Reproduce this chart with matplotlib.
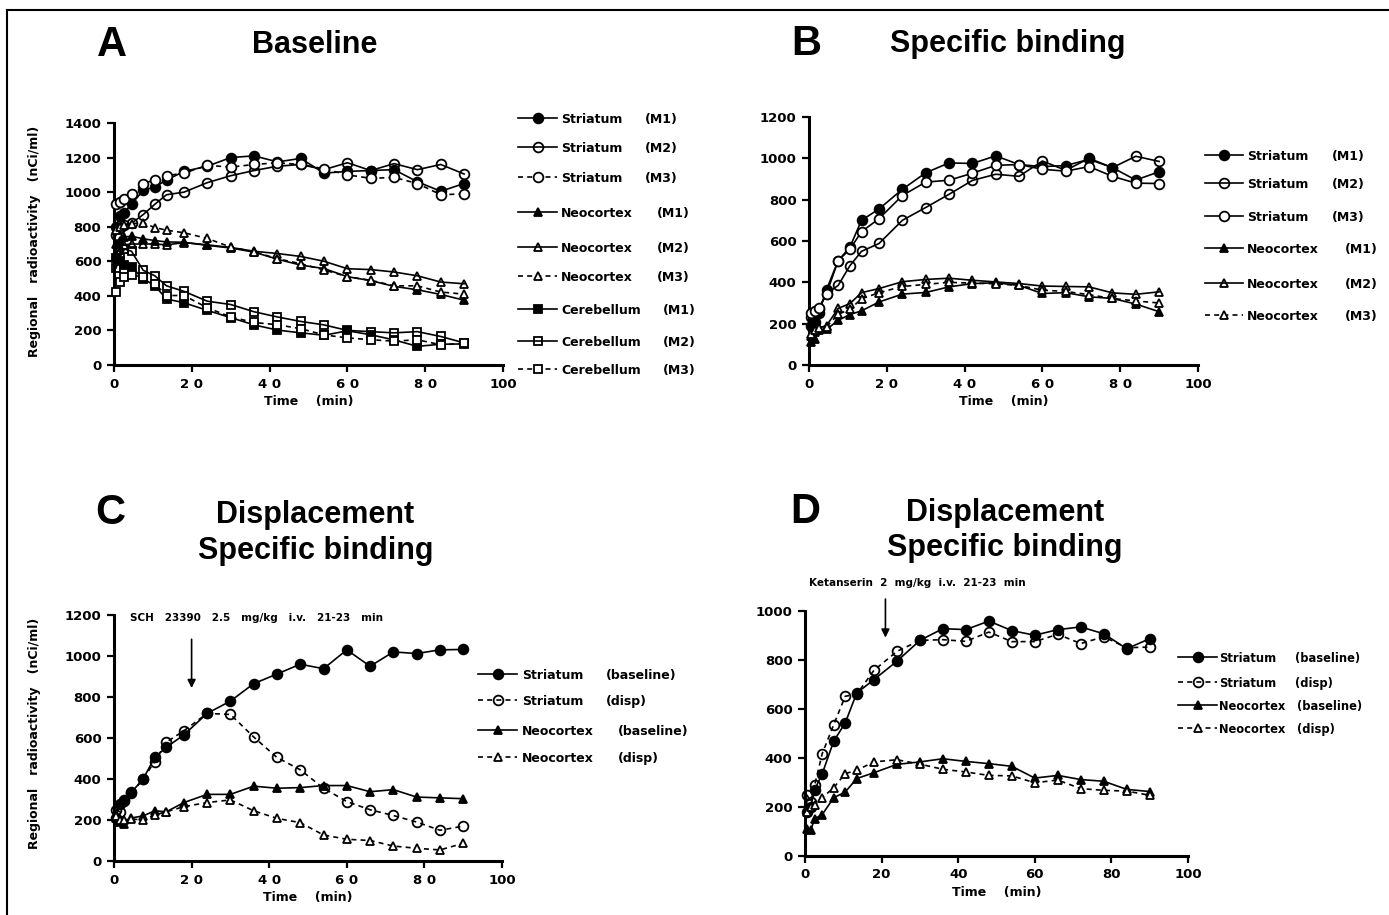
import matplotlib
matplotlib.use("Agg")
import matplotlib.pyplot as plt
from matplotlib.lines import Line2D

plt.rcParams['font.family'] = ['DejaVu Sans']
plt.rcParams['font.weight'] = 'bold'

W, H = 1389, 915

# frame mid-times (min)
times = [0.5, 1.5, 2.5, 4.5, 7.5, 10.5, 13.5, 18, 24, 30, 36, 42, 48, 54, 60, 66, 72, 78, 84, 90]

# A  Baseline
a_str_m1 = [800, 860, 880, 930, 1010, 1030, 1070, 1120, 1150, 1200, 1210, 1175, 1195, 1110, 1120, 1125, 1130, 1060, 1005, 1050]
a_str_m2 = [750, 790, 810, 820, 870, 930, 985, 1000, 1055, 1095, 1125, 1150, 1160, 1130, 1170, 1125, 1165, 1130, 1160, 1105]
a_str_m3 = [930, 945, 960, 990, 1050, 1070, 1095, 1110, 1155, 1145, 1160, 1170, 1160, 1135, 1100, 1080, 1085, 1050, 985, 990]
a_neo_m1 = [700, 720, 740, 745, 730, 720, 712, 710, 692, 677, 653, 612, 578, 558, 511, 488, 455, 435, 408, 375]
a_neo_m2 = [640, 680, 695, 700, 700, 700, 695, 708, 695, 680, 658, 645, 628, 600, 557, 552, 538, 516, 480, 470]
a_neo_m3 = [780, 800, 810, 818, 822, 795, 780, 765, 732, 682, 655, 615, 586, 550, 511, 490, 458, 458, 422, 410]
a_cer_m1 = [620, 600, 580, 565, 500, 458, 382, 360, 316, 274, 232, 202, 186, 172, 198, 175, 145, 108, 120, 122]
a_cer_m2 = [560, 620, 672, 658, 548, 516, 458, 426, 369, 350, 308, 278, 252, 232, 200, 193, 186, 193, 165, 128]
a_cer_m3 = [420, 480, 510, 520, 510, 470, 402, 402, 331, 278, 246, 233, 210, 174, 157, 146, 138, 146, 117, 125]

# B  Specific binding
b_str_m1 = [190, 210, 250, 365, 505, 570, 700, 755, 850, 930, 978, 975, 1012, 970, 960, 965, 995, 955, 895, 935]
b_str_m2 = [230, 250, 270, 345, 385, 480, 550, 588, 700, 762, 826, 893, 923, 913, 987, 942, 1000, 955, 1010, 985]
b_str_m3 = [250, 260, 275, 345, 505, 560, 645, 708, 820, 885, 894, 928, 966, 970, 947, 938, 960, 913, 880, 878]
b_neo_m1 = [110, 128, 170, 172, 216, 244, 262, 305, 343, 351, 378, 394, 398, 385, 346, 350, 330, 322, 295, 258]
b_neo_m2 = [140, 160, 180, 190, 274, 297, 350, 370, 403, 414, 420, 410, 402, 394, 382, 380, 378, 349, 342, 354]
b_neo_m3 = [150, 170, 180, 185, 245, 270, 320, 350, 380, 390, 400, 396, 393, 385, 362, 356, 340, 322, 310, 300]

# C  Displacement (SCH 23390)
c_str_base = [210, 280, 300, 335, 400, 505, 555, 615, 720, 780, 865, 912, 960, 938, 1030, 950, 1020, 1012, 1030, 1032]
c_str_disp = [250, 240, 295, 330, 400, 485, 580, 635, 720, 715, 605, 505, 445, 355, 290, 250, 222, 190, 150, 170]
c_neo_base = [210, 190, 180, 210, 220, 245, 240, 285, 325, 325, 365, 355, 358, 368, 368, 338, 348, 312, 308, 304]
c_neo_disp = [220, 200, 200, 205, 200, 225, 240, 265, 285, 298, 245, 208, 187, 127, 106, 100, 73, 62, 54, 86]

# D  Displacement (Ketanserin)
d_str_base = [180, 200, 270, 336, 469, 543, 665, 720, 795, 880, 928, 924, 959, 920, 901, 924, 935, 907, 846, 887]
d_str_disp = [250, 220, 288, 418, 536, 652, 660, 758, 835, 880, 883, 876, 914, 875, 875, 905, 867, 895, 850, 853]
d_neo_base = [110, 105, 152, 169, 238, 261, 316, 340, 374, 384, 397, 386, 377, 366, 318, 329, 312, 305, 272, 263]
d_neo_disp = [180, 200, 210, 238, 279, 336, 350, 384, 393, 375, 354, 343, 329, 327, 299, 310, 275, 268, 265, 248]

x_ticks = [0, 20, 40, 60, 80, 100]
x_labels_spaced = ['0', '2 0', '4 0', '6 0', '8 0', '100']
x_labels_plain = ['0', '20', '40', '60', '80', '100']

DASH = (0, (3, 2.5))
CIRC, TRI = 7, 6


def px(x, y):
    return x / W, 1 - y / H


def style(marker, fill, dashed, ms):
    return dict(color='k', lw=1.2, ls=DASH if dashed else '-', marker=marker,
                ms=ms, mfc=fill, mec='k', mew=1.3)


fig = plt.figure(figsize=(W / 100, H / 100), dpi=100)

# frame
fig.add_artist(Line2D([7 / W, 7 / W], [0, 1 - 10 / H], transform=fig.transFigure, color='k', lw=1.5))
fig.add_artist(Line2D([7 / W, 1], [1 - 10 / H, 1 - 10 / H], transform=fig.transFigure, color='k', lw=1.5))


def make_axes(left, top, right, bottom, ymax, labels):
    l, t = px(left, top)
    r, b = px(right, bottom)
    ax = fig.add_axes([l, b, r - l, t - b])
    ax.set_xlim(0, 100)
    ax.set_ylim(0, ymax)
    for s in ['top', 'right']:
        ax.spines[s].set_visible(False)
    for s in ['left', 'bottom']:
        ax.spines[s].set_linewidth(2.2)
    ax.set_xticks(x_ticks)
    ax.set_xticklabels(labels)
    ax.set_yticks(range(0, ymax + 1, 200))
    ax.tick_params(direction='out', length=5, width=1.6, labelsize=9.5, pad=4)
    ax.set_xlabel('Time    (min)', fontsize=9, fontweight='bold', labelpad=3)
    return ax


def series(ax, y, marker, fill, dashed, ms=CIRC):
    ax.plot(times, y, clip_on=False, zorder=3, **style(marker, fill, dashed, ms))


def legend(rows, ys, hx0, hx1, name_x, tag_xs, size=9):
    for (marker, fill, dashed, ms, name, tag), y, tx in zip(rows, ys, tag_xs):
        fx0, fy = px(hx0, y)
        fx1, _ = px(hx1, y)
        fig.add_artist(Line2D([fx0, (fx0 + fx1) / 2, fx1], [fy, fy, fy], transform=fig.transFigure,
                              markevery=[1], **style(marker, fill, dashed, ms)))
        fig.text(name_x / W, fy, name, fontsize=size, fontweight='bold', va='center_baseline', ha='left')
        fig.text(tx / W, fy, tag, fontsize=size, fontweight='bold', va='center_baseline', ha='left')


def title(x, y, s, size=22):
    fig.text(x / W, 1 - y / H, s, fontsize=size, fontweight='bold', family='Liberation Sans',
             ha='center', va='center')


ylab = 'Regional   radioactivity   (nCi/ml)'

# ---- A
axA = make_axes(114, 123, 503, 365, 1400, x_labels_spaced)
series(axA, a_str_m1, 'o', 'k', False)
series(axA, a_str_m2, 'o', 'none', False)
series(axA, a_str_m3, 'o', 'white', True)
series(axA, a_neo_m1, '^', 'k', False, TRI)
series(axA, a_neo_m2, '^', 'none', False, TRI)
series(axA, a_neo_m3, '^', 'white', True, TRI)
series(axA, a_cer_m1, 's', 'k', False, TRI)
series(axA, a_cer_m2, 's', 'none', False, TRI)
series(axA, a_cer_m3, 's', 'white', True, TRI)
title(112, 45, 'A', 30)
title(315, 45, 'Baseline')
fig.text(35 / W, 1 - 241 / H, ylab, rotation=90, fontsize=9, fontweight='bold', ha='center', va='center')

legend([('o', 'k', False, CIRC, 'Striatum', '(M1)'),
        ('o', 'none', False, CIRC, 'Striatum', '(M2)'),
        ('o', 'white', True, CIRC, 'Striatum', '(M3)'),
        ('^', 'k', False, TRI, 'Neocortex', '(M1)'),
        ('^', 'none', False, TRI, 'Neocortex', '(M2)'),
        ('^', 'white', True, TRI, 'Neocortex', '(M3)'),
        ('s', 'k', False, TRI, 'Cerebellum', '(M1)'),
        ('s', 'none', False, TRI, 'Cerebellum', '(M2)'),
        ('s', 'white', True, TRI, 'Cerebellum', '(M3)')],
       [118, 147, 177, 212, 247, 276, 309, 341, 369], 518, 557, 561,
       [645, 645, 645, 657, 657, 657, 663, 663, 663])

# ---- B
axB = make_axes(809, 117, 1198, 365, 1200, x_labels_spaced)
series(axB, b_str_m1, 'o', 'k', False)
series(axB, b_str_m2, 'o', 'none', False)
series(axB, b_str_m3, 'o', 'white', False)
series(axB, b_neo_m1, '^', 'k', False, TRI)
series(axB, b_neo_m2, '^', 'none', False, TRI)
series(axB, b_neo_m3, '^', 'white', True, TRI)
title(806, 44, 'B', 30)
title(1008, 44, 'Specific binding')

legend([('o', 'k', False, CIRC, 'Striatum', '(M1)'),
        ('o', 'none', False, CIRC, 'Striatum', '(M2)'),
        ('o', 'white', False, CIRC, 'Striatum', '(M3)'),
        ('^', 'k', False, TRI, 'Neocortex', '(M1)'),
        ('^', 'none', False, TRI, 'Neocortex', '(M2)'),
        ('^', 'white', True, TRI, 'Neocortex', '(M3)')],
       [155, 183, 216, 248, 283, 315], 1205, 1243, 1247,
       [1332, 1332, 1332, 1345, 1345, 1345])

# ---- C
axC = make_axes(114, 615, 502, 861, 1200, x_labels_spaced)
series(axC, c_str_base, 'o', 'k', False)
series(axC, c_str_disp, 'o', 'none', True)
series(axC, c_neo_base, '^', 'k', False, TRI)
series(axC, c_neo_disp, '^', 'white', True, TRI)
title(110, 513, 'C', 30)
title(315, 515, 'Displacement')
title(316, 551, 'Specific binding')
fig.text(35 / W, 1 - 733 / H, ylab, rotation=90, fontsize=9, fontweight='bold', ha='center', va='center')
axC.text(4, 1185, 'SCH   23390   2.5   mg/kg   i.v.   21-23   min', fontsize=7.5, fontweight='bold',
         va='center', ha='left', clip_on=False)
axC.annotate('', xy=(20, 830), xytext=(20, 1095), annotation_clip=False,
             arrowprops=dict(arrowstyle='-|>', color='k', lw=1.2, mutation_scale=12))

legend([('o', 'k', False, CIRC, 'Striatum', '(baseline)'),
        ('o', 'none', True, CIRC, 'Striatum', '(disp)'),
        ('^', 'k', False, TRI, 'Neocortex', '(baseline)'),
        ('^', 'white', True, TRI, 'Neocortex', '(disp)')],
       [674, 700, 730, 757], 478, 517, 522, [606, 606, 618, 618])

# ---- D
axD = make_axes(805, 611, 1188, 856, 1000, x_labels_plain)
series(axD, d_str_base, 'o', 'k', False)
series(axD, d_str_disp, 'o', 'none', True)
series(axD, d_neo_base, '^', 'k', False, TRI)
series(axD, d_neo_disp, '^', 'white', True, TRI)
title(805, 512, 'D', 30)
title(1005, 513, 'Displacement')
title(1005, 548, 'Specific binding')
axD.text(1, 1114, 'Ketanserin  2  mg/kg  i.v.  21-23  min', fontsize=7.5, fontweight='bold',
         va='center', ha='left', clip_on=False)
axD.annotate('', xy=(21, 880), xytext=(21, 1060), annotation_clip=False,
             arrowprops=dict(arrowstyle='-|>', color='k', lw=1.2, mutation_scale=12))

legend([('o', 'k', False, CIRC, 'Striatum', '(baseline)'),
        ('o', 'none', True, CIRC, 'Striatum', '(disp)'),
        ('^', 'k', False, TRI, 'Neocortex', '(baseline)'),
        ('^', 'white', True, TRI, 'Neocortex', '(disp)')],
       [657, 682, 705, 728], 1178, 1217, 1219, [1295, 1295, 1297, 1297], size=8.3)

fig.savefig('out.png', dpi=100)
